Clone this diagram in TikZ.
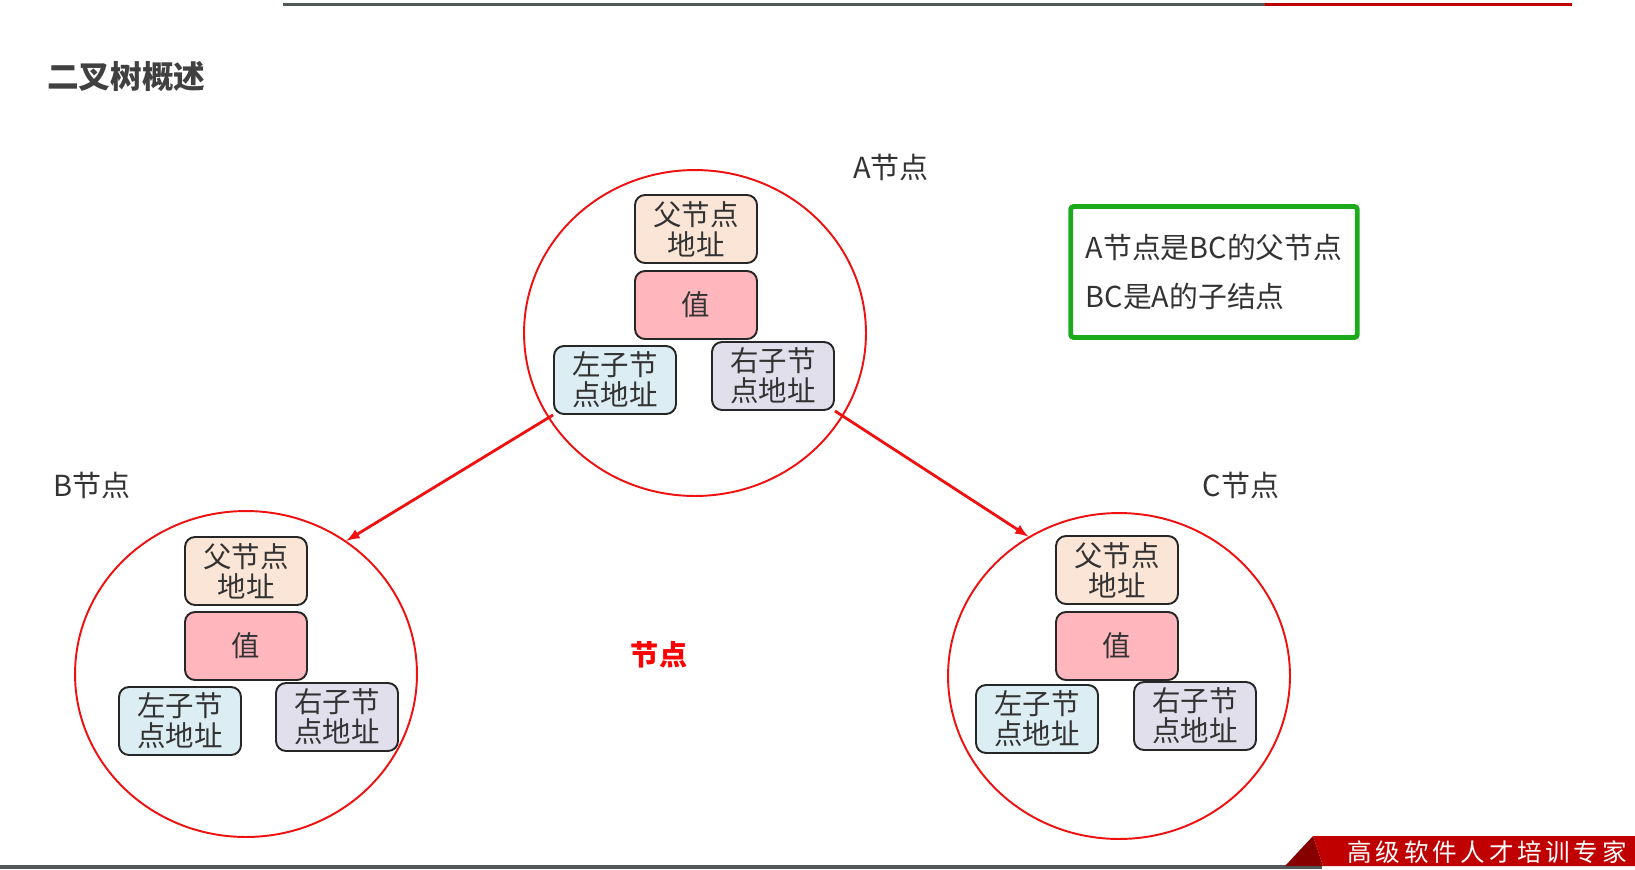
\documentclass[tikz,border=0pt]{standalone}
\usepackage{fontspec}
\setmainfont{Noto Sans CJK SC}
\newfontfamily\bannerfont[LetterSpace=15]{Noto Sans CJK SC}
\usetikzlibrary{positioning,shapes.geometric,calc}

\definecolor{parfill}{HTML}{FBE5D6}
\definecolor{valfill}{HTML}{FFB7BD}
\definecolor{lchfill}{HTML}{DCEEF4}
\definecolor{rchfill}{HTML}{E2DFEC}
\definecolor{ringred}{HTML}{F01010}
\definecolor{boxgreen}{HTML}{1CAA1C}
\definecolor{barred}{HTML}{C00000}
\definecolor{bargray}{HTML}{505858}
\definecolor{textgray}{HTML}{333333}

\begin{document}
\begin{tikzpicture}
    [x=0.02cm,y=-0.02cm,>=latex,
     cell/.style={draw=black!85,line width=1.1pt,rounded corners=0.2cm,minimum width=2.44cm,minimum height=1.36cm,
                  inner sep=0pt,align=center,text=textgray,font=\fontsize{16.2}{17}\selectfont},
     ring/.style={draw=ringred,line width=1.1pt,ellipse,minimum width=6.84cm,minimum height=6.52cm,inner sep=0pt},
     tag/.style={text=textgray,font=\fontsize{16.5}{19}\selectfont}]

    \useasboundingbox (0,0) rectangle (1635,869);

    % top and bottom bars
    \draw[bargray,line width=1.7pt] (283,4.5) -- (1265,4.5);
    \draw[barred,line width=1.7pt] (1265,4.5) -- (1572,4.5);
    \draw[bargray,line width=2.2pt] (0,867) -- (1322,867);
    \fill[barred!70!black] (1285,866) -- (1313,836) -- (1323,866) -- cycle;
    \fill[barred] (1313,836) -- (1635,836) -- (1635,866) -- (1323,866) -- cycle;
    \node[text=white,font=\bannerfont\fontsize{14}{16}\selectfont,anchor=east] (slogan) at (1633,852) {高级软件人才培训专家};

    \node[anchor=west,text=black!75,font=\bfseries\fontsize{18}{21}\selectfont] (title) at (41,77) {二叉树概述};

    % node A
    \node[ring] (ringA) at (695,333) {};
    \node[tag] (tagA) at (891,167) {A节点};
    \node[cell,fill=parfill] (parA) at (696,229) {父节点\\地址};
    \node[cell,fill=valfill] (valA) at (696,305) {值};
    \node[cell,fill=lchfill] (lchA) at (615,380) {左子节\\点地址};
    \node[cell,fill=rchfill] (rchA) at (773,376) {右子节\\点地址};

    % node B
    \node[ring] (ringB) at (246,674) {};
    \node[tag] (tagB) at (92,485) {B节点};
    \node[cell,fill=parfill] (parB) at (246,571) {父节点\\地址};
    \node[cell,fill=valfill] (valB) at (246,646) {值};
    \node[cell,fill=lchfill] (lchB) at (180,721) {左子节\\点地址};
    \node[cell,fill=rchfill] (rchB) at (337,717) {右子节\\点地址};

    % node C
    \node[ring] (ringC) at (1119,676) {};
    \node[tag] (tagC) at (1241,485) {C节点};
    \node[cell,fill=parfill] (parC) at (1117,570) {父节点\\地址};
    \node[cell,fill=valfill] (valC) at (1117,646) {值};
    \node[cell,fill=lchfill] (lchC) at (1037,719) {左子节\\点地址};
    \node[cell,fill=rchfill] (rchC) at (1195,716) {右子节\\点地址};

    \draw[->,ringred,line width=1.6pt] (lchA.south west) -- (ringB.53);
    \draw[->,ringred,line width=1.6pt] (rchA.south east) -- (ringC.123);

    \node[text=red,font=\bfseries\fontsize{16}{19}\selectfont] (caption) at (659,655) {节点};

    \node[draw=boxgreen,line width=2.8pt,rounded corners=0.06cm,minimum width=5.68cm,minimum height=2.62cm,
          inner xsep=0.3cm,align=left,text=textgray,font=\fontsize{16.4}{27.5}\selectfont] (note) at (1214,272)
          {A节点是BC的父节点\\BC是A的子结点};

\end{tikzpicture}
\end{document}
